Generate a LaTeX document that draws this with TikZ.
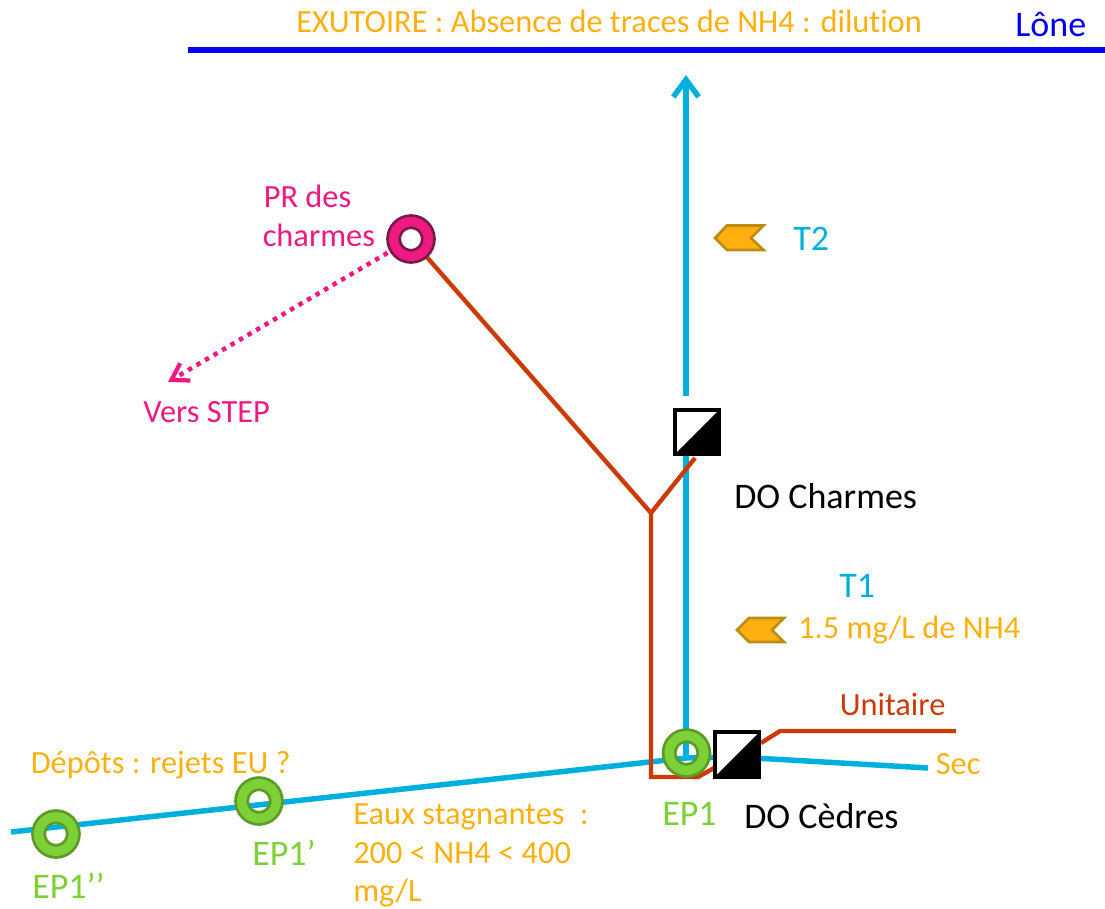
\documentclass[tikz,border=0pt]{standalone}
\usepackage{fontspec}
\setmainfont{Carlito}[Ligatures=NoCommon]
\usetikzlibrary{backgrounds,arrows.meta}
\definecolor{cblue}{HTML}{00B0DC}
\definecolor{cred}{HTML}{CC3A06}
\definecolor{corange}{HTML}{FFB00F}
\definecolor{corangedk}{HTML}{BC8C12}
\definecolor{cgreen}{HTML}{7DD136}
\definecolor{cgreendk}{HTML}{5B9A2B}
\definecolor{cpink}{HTML}{EE1A80}
\definecolor{cpinkdk}{HTML}{7A1A4A}
\definecolor{lone}{HTML}{0000F0}
\tikzset{
  x=0.75pt,y=-0.75pt,
  ring/.style={circle,inner sep=0pt,outer sep=0pt,minimum size=26pt,draw=#1dk,line width=2.1pt,double=#1,double distance=7pt},
  dobox/.style={rectangle,inner sep=0pt,outer sep=0pt,minimum size=33.4pt,draw=black,line width=2.8pt,fill=white,
    path picture={\fill[black] (path picture bounding box.north east) -- (path picture bounding box.south east) -- (path picture bounding box.south west) -- cycle;}},
  txt/.style={anchor=base west,inner sep=0pt,font=\fontsize{24.3pt}{27pt}\selectfont,align=left},
  txtb/.style={anchor=base west,inner sep=0pt,font=\fontsize{27pt}{30pt}\selectfont,align=left},
  bluel/.style={draw=cblue,line width=4.1pt},
  redl/.style={draw=cred,line width=3.3pt,line join=miter},
  marker/.style={fill=corange,draw=corangedk,line width=2pt,line join=miter},
}
\begin{document}
\begin{tikzpicture}
\useasboundingbox (0,0) rectangle (1105,908);
% rings and boxes
\node[ring=cgreen] (ep2) at (56,834) {};
\node[ring=cgreen] (ep1p) at (259,801) {};
\node[ring=cgreen] (ep1) at (686.5,753) {};
\node[ring=cpink] (pr) at (411,239) {};
\node[dobox] (doc) at (737,754.5) {};
\node[dobox] (doch) at (697,432) {};
% free ends
\coordinate (loneA) at (188,50);
\coordinate (loneB) at (1105,50);
\coordinate (bleft) at (11,832);
\coordinate (bjoin) at (686,758);
\coordinate (bsec) at (928,768);
\coordinate (bsecs) at (737,757);
\coordinate (btop) at (686,396);
\coordinate (bhead) at (686,75);
\coordinate (bbelow) at (686,450);
\coordinate (jct) at (651,513);
\coordinate (rb1) at (651,777);
\coordinate (rb2) at (698,777);
\coordinate (rb3) at (714,768);
\coordinate (ru1) at (761,743);
\coordinate (ru2) at (780,731);
\coordinate (ru3) at (956,731);
\coordinate (rup) at (695,458);
\coordinate (stepend) at (168,382);
\begin{pgfonlayer}{background}
\draw[lone,line width=4pt] (loneA) -- (loneB);
\path[bluel] (bleft) -- (bjoin) -- (bsecs) -- (bsec);
\path[bluel] (bjoin) -- (bbelow);
\path[bluel,-{Straight Barb[length=13pt,width=19pt,line width=4.1pt]}] (btop) -- (bhead);
\path[redl] (pr) -- (jct) -- (rb1) -- (rb2) -- (rb3);
\path[redl] (jct) -- (rup);
\path[redl] (ru1) -- (ru2) -- (ru3);
\draw[cpink,line width=3.4pt,dash pattern=on 3.4pt off 4pt,-{Straight Barb[length=12pt,width=15pt,line width=3.2pt]}] (pr) -- (stepend);
\end{pgfonlayer}
% markers
\filldraw[marker] (715,238) -- (727,225.5) -- (763.5,225.5) -- (751,238) -- (763.5,250) -- (727,250) -- cycle;
\filldraw[marker] (737,630) -- (749,618) -- (784,618) -- (772,630) -- (784,642) -- (749,642) -- cycle;
% texts
\node[txt,text=corange] (t0) at (296,32.5) {EXUTOIRE : Absence de traces de NH4 : dilution};
\node[txtb,text=lone] (t1) at (1015,36) {Lône};
\node[txt,text=cpink] (t2) at (263.5,207.5) {PR des};
\node[txt,text=cpink] (t3) at (262.5,246.5) {charmes};
\node[txt,text=cpink] (t4) at (143,422.5) {Vers STEP};
\node[txtb,text=cblue] (t5) at (793,250.5) {T2};
\node[txtb,text=black] (t6) at (734,508) {DO Charmes};
\node[txtb,text=cblue] (t7) at (839,597.5) {T1};
\node[txt,text=corange] (t8) at (798,638.5) {1.5 mg/L de NH4};
\node[txt,text=cred] (t9) at (839.5,715.5) {Unitaire};
\node[txt,text=corange] (t10) at (935.5,774.5) {Sec};
\node[txt,text=corange] (t11) at (30.5,773.5) {Dépôts : rejets EU ?};
\node[txtb,text=cgreen] (t12) at (662,825.5) {EP1};
\node[txtb,text=black] (t13) at (744,828) {DO Cèdres};
\node[txtb,text=cgreen] (t14) at (252,865.5) {EP1’};
\node[txtb,text=cgreen] (t15) at (32,898) {EP1’’};
\node[txt,text=corange] (t16) at (353,824.5) {Eaux stagnantes\hspace{6pt}\ :};
\node[txt,text=corange] (t17) at (353,863.5) {200 < NH4 < 400};
\node[txt,text=corange] (t18) at (353,901) {mg/L};
\end{tikzpicture}
\end{document}
